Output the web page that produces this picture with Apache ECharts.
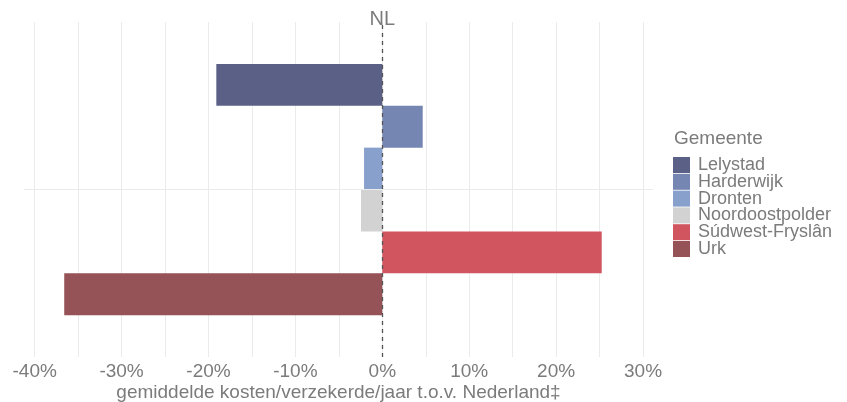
<!DOCTYPE html>
<html>
<head>
<meta charset="utf-8">
<script src="https://cdn.jsdelivr.net/npm/echarts@6/dist/echarts.min.js"></script>
<style>
html,body{margin:0;padding:0;background:#fff;}
#chart{width:847px;height:402px;}
</style>
</head>
<body>
<div id="chart"></div>
<script>
const gemeenten = ['Lelystad', 'Harderwijk', 'Dronten', 'Noordoostpolder', 'Súdwest-Fryslân', 'Urk'];
const waarden = [-19.1, 4.65, -2.1, -2.45, 25.25, -36.6];
const kleuren = ['#5b6086', '#7686b3', '#88a0cc', '#d2d2d2', '#d0555f', '#955257'];
const tickLabels = [-40, -30, -20, -10, 0, 10, 20, 30];
const gridLines = [-40, -35, -30, -25, -20, -15, -10, -5, 0, 5, 10, 15, 20, 25, 30];
const xTitle = 'gemiddelde kosten/verzekerde/jaar t.o.v. Nederland\u2021';
const legendTitle = 'Gemeente';
const refLabel = 'NL';

const gray = '#7b7b7b';
const font = 'Liberation Sans, Arial, sans-serif';

const series = gemeenten.map((g, i) => ({
  name: g,
  type: 'bar',
  data: [waarden[i]],
  barGap: '0%',
  barCategoryGap: '25%',
  itemStyle: { color: kleuren[i] },
  z: 2
}));
series.push({
  name: '_ref',
  type: 'line',
  data: [],
  markLine: {
    silent: true,
    symbol: 'none',
    animation: false,
    data: [
      { xAxis: 0, lineStyle: { color: '#555', type: [4, 4], width: 1.3 },
        label: { show: true, position: 'end', formatter: refLabel, color: gray, fontSize: 20, fontFamily: font, distance: -7 } },
      { yAxis: 0, lineStyle: { color: '#ebebeb', type: 'solid', width: 1 }, label: { show: false } }
    ]
  },
  z: 3
});

const chart = echarts.init(document.getElementById('chart'), null, { renderer: 'canvas' });
chart.setOption({
  animation: false,
  backgroundColor: '#fff',
  textStyle: { fontFamily: font },
  title: {
    text: legendTitle,
    left: 669, top: 124,
    textStyle: { color: gray, fontSize: 19, fontWeight: 'normal', fontFamily: font }
  },
  legend: {
    orient: 'vertical',
    left: 668, top: 151,
    data: gemeenten,
    icon: 'rect',
    itemWidth: 17, itemHeight: 16,
    itemGap: -1.2,
    textStyle: { color: gray, fontSize: 18, lineHeight: 16, fontFamily: font, padding: [0, 0, 0, 3] },
    selectedMode: false
  },
  grid: { left: 24, right: 194, top: 22, bottom: 45, containLabel: false, outerBoundsMode: 'none' },
  xAxis: {
    type: 'value',
    min: -41.23, max: 31.15,
    name: xTitle,
    nameLocation: 'middle',
    nameGap: 26,
    nameMoveOverlap: false,
    nameTextStyle: { color: gray, fontSize: 19, fontFamily: font },
    axisLine: { show: false },
    axisTick: { show: false, customValues: gridLines },
    axisLabel: { customValues: tickLabels, formatter: v => v + '%', color: gray, fontSize: 19, fontFamily: font, margin: 5 },
    splitLine: { show: true, lineStyle: { color: '#ebebeb', width: 1 } }
  },
  yAxis: {
    type: 'category',
    data: [''],
    axisLine: { show: false },
    axisTick: { show: false },
    axisLabel: { show: false },
    splitLine: { show: false }
  },
  series: series
});
</script>
</body>
</html>
